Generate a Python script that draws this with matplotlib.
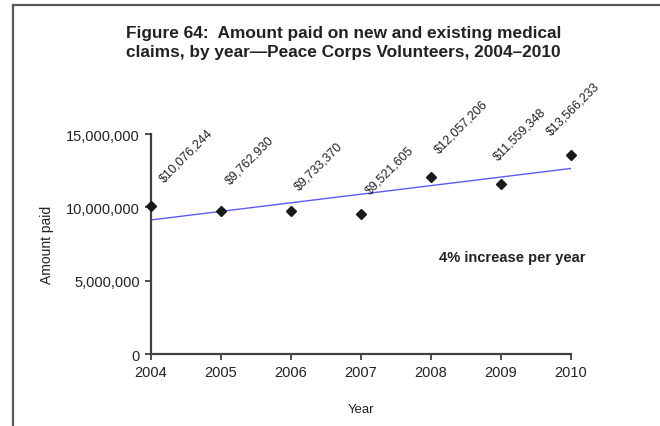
import numpy as np
import matplotlib.pyplot as plt
from matplotlib.lines import Line2D
from matplotlib.ticker import FuncFormatter

plt.rcParams['font.family'] = ['Liberation Sans', 'DejaVu Sans']

years = [2004, 2005, 2006, 2007, 2008, 2009, 2010]
amounts = [10076244, 9762930, 9733370, 9521605, 12057206, 11559348, 13566233]
labels = ['$10,076,244', '$9,762,930', '$9,733,370', '$9,521,605',
          '$12,057,206', '$11,559,348', '$13,566,233']

# label offsets in points (lower-left of rotated text relative to point)
offsets = [(11, 16), (8, 18), (7, 14), (8, 13), (7, 16), (-1, 16), (-13, 13)]

fig = plt.figure(figsize=(6.6, 4.27), dpi=100)
ax = fig.add_axes([0.2288, 0.1686, 0.6364, 0.5152])

# outer frame (cut off on right and bottom)
frame_col = '#5a5a5a'
fig.add_artist(Line2D([13/660, 13/660], [0, 1 - 6/427], transform=fig.transFigure,
                      color=frame_col, lw=1.6))
fig.add_artist(Line2D([13/660, 1], [1 - 6/427, 1 - 6/427], transform=fig.transFigure,
                      color=frame_col, lw=1.6))

# linear trend
x = np.array(years, dtype=float)
slope, icept = np.polyfit(x, amounts, 1)
ax.plot(x, slope * x + icept, color='#5b5bf5', lw=1.0, zorder=2)

ax.plot(years, amounts, linestyle='none', marker='D', markersize=5,
        color='#1a1a1a', clip_on=False, zorder=3)

for xv, yv, lab, off in zip(years, amounts, labels, offsets):
    ax.annotate(lab, (xv, yv), xytext=off, textcoords='offset points',
                rotation=45, rotation_mode='anchor', ha='left', va='bottom',
                fontsize=9, color='#222222')

ax.set_xlim(2004, 2010)
ax.set_ylim(0, 15000000)
ax.set_xticks(years)
ax.set_yticks([0, 5000000, 10000000, 15000000])
ax.yaxis.set_major_formatter(FuncFormatter(lambda v, p: f'{int(v):,}'))

for s in ['top', 'right']:
    ax.spines[s].set_visible(False)
for s in ['left', 'bottom']:
    ax.spines[s].set_color('#404040')
    ax.spines[s].set_linewidth(1.6)
ax.tick_params(axis='both', direction='out', length=4, width=1.3,
               color='#404040', labelsize=10.5, labelcolor='#222222', pad=4)

ax.set_xlabel('Year', fontsize=9.5, color='#222222', labelpad=17)
ax.set_ylabel('Amount paid', fontsize=10, color='#222222', labelpad=9)

ax.text(2009.16, 6600000, '4% increase per year', fontsize=10.5, fontweight='bold',
        ha='center', va='center', color='#222222')

fig.text(0.52, 0.9, 'Figure 64:  Amount paid on new and existing medical\n'
         'claims, by year\u2014Peace Corps Volunteers, 2004\u20132010',
         ha='center', va='center', fontsize=12.4, fontweight='bold',
         color='#222222', linespacing=1.3)

fig.savefig('out.png', dpi=100)
